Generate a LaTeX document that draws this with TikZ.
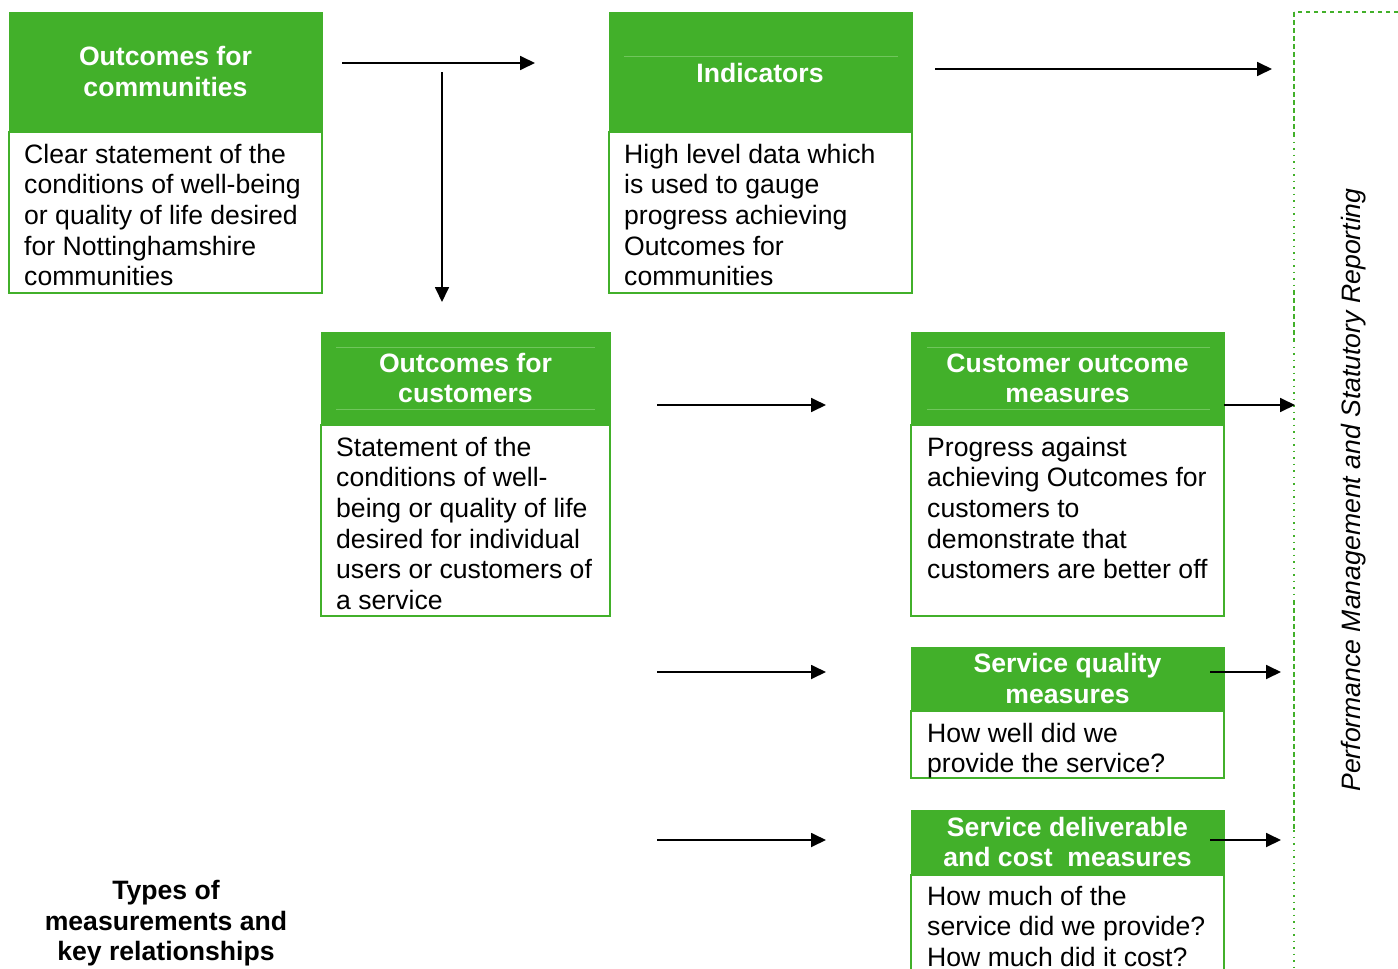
\documentclass[tikz,border=0pt]{standalone}
\usepackage{fontspec}
\setmainfont{Liberation Sans}
\usetikzlibrary{arrows.meta}
\definecolor{grn}{RGB}{66,176,42}
\definecolor{grnl}{RGB}{112,198,92}
\newcommand\hs{\rule[-6.3pt]{0pt}{30.6pt}}
\begin{document}
\begin{tikzpicture}[x=1pt,y=-1pt,
  hdr/.style={rectangle, fill=grn, draw=grn, line width=1pt, inner sep=0pt, outer sep=0pt, anchor=north west},
  bodybox/.style={rectangle, draw=grn, line width=2pt, fill=white, inner sep=0pt, outer sep=0pt, anchor=north west},
  htext/.style={text=white, font=\fontsize{26.6}{30.6}\selectfont\bfseries, align=center, inner sep=0pt},
  ttext/.style={text=black, font=\fontsize{26.6}{30.6}\selectfont\bfseries, align=center, inner sep=0pt},
  btext/.style={text=black, font=\fontsize{26.6}{30.6}\selectfont, align=left, inner sep=0pt, anchor=north west},
  vtext/.style={text=black, font=\fontsize{26.6}{30.6}\selectfont\itshape, inner sep=0pt},
  arr/.style={line width=1.8pt, -{Triangle[length=15pt,width=14pt]}},
  faint/.style={draw=grnl, line width=0.8pt},
  dashseg/.style={draw=grn, line width=2pt, dash pattern=on 5pt off 3pt},
  dotseg/.style={draw=grn, line width=2pt, dash pattern=on 1.5pt off 5pt}]
\useasboundingbox (0,0) rectangle (1398,969);
\clip (0,0) rectangle (1398,969);

% bodies
\node[bodybox, minimum width=313pt, minimum height=161pt] (b1) at (9,132) {};
\node[bodybox, minimum width=303pt, minimum height=161pt] (b2) at (609,132) {};
\node[bodybox, minimum width=289pt, minimum height=191pt] (b3) at (321,425) {};
\node[bodybox, minimum width=313pt, minimum height=191pt] (b4) at (911,425) {};
\node[bodybox, minimum width=313pt, minimum height=67pt] (b5) at (911,711) {};
\node[bodybox, minimum width=313pt, minimum height=130pt] (b6) at (911,875) {};

% headers
\node[hdr, minimum width=313pt, minimum height=120pt] (h1) at (9,12) {};
\node[hdr, minimum width=303pt, minimum height=120pt] (h2) at (609,12) {};
\node[hdr, minimum width=289pt, minimum height=93pt] (h3) at (321,332) {};
\node[hdr, minimum width=313pt, minimum height=93pt] (h4) at (911,332) {};
\node[hdr, minimum width=313pt, minimum height=64pt] (h5) at (911,647) {};
\node[hdr, minimum width=313pt, minimum height=65pt] (h6) at (911,810) {};

% faint inner lines in headers
\draw[faint] (624,56) -- (898,56);
\draw[faint] (336,347) -- (595,347);
\draw[faint] (336,409) -- (595,409);
\draw[faint] (927,347) -- (1210,347);
\draw[faint] (927,409) -- (1210,409);

% header texts
\node[htext] (t1) at (h1.center) {\hs Outcomes for\\\hs communities};
\node[htext] (t2) at (760,73) {\hs Indicators};
\node[htext] (t3) at (h3.center) {\hs Outcomes for\\\hs customers};
\node[htext] (t4) at (h4.center) {\hs Customer outcome\\\hs measures};
\node[htext] (t5) at (h5.center) {\hs Service quality\\\hs measures};
\node[htext] (t6) at (h6.center) {\hs Service deliverable\\\hs and cost\ \ measures};

% body texts
\node[btext] (x1) at (24,138.7) {\hs Clear statement of the\\\hs conditions of well-being\\\hs or quality of life desired\\\hs for Nottinghamshire\\\hs communities};
\node[btext] (x2) at (624,138.7) {\hs High level data which\\\hs is used to gauge\\\hs progress achieving\\\hs Outcomes for\\\hs communities};
\node[btext] (x3) at (336,431.7) {\hs Statement of the\\\hs conditions of well-\\\hs being or quality of life\\\hs desired for individual\\\hs users or customers of\\\hs a service};
\node[btext] (x4) at (927,431.7) {\hs Progress against\\\hs achieving Outcomes for\\\hs customers to\\\hs demonstrate that\\\hs customers are better off};
\node[btext] (x5) at (927,717.7) {\hs How well did we\\\hs provide the service?};
\node[btext] (x6) at (927,880.7) {\hs How much of the\\\hs service did we provide?\\\hs How much did it cost?};

% title
\node[ttext] (title) at (166,921) {\hs Types of\\\hs measurements and\\\hs key relationships};

% vertical text
\node[vtext, rotate=90] (pm) at (1351,490) {\hs Performance Management and Statutory Reporting};

% dashed reporting boundary
\coordinate (d0) at (1398,12);
\coordinate (d1) at (1294,12);
\coordinate (d2) at (1294,135);
\coordinate (d3) at (1294,290);
\coordinate (d4) at (1294,340);
\coordinate (d5) at (1294,600);
\coordinate (d6) at (1294,830);
\coordinate (d7) at (1294,975);
\draw[dashseg, dash pattern=on 4pt off 4pt] (d0) -- (d1);
\draw[dashseg] (d1) -- (d2);
\draw[dotseg] (d2) -- (d3);
\draw[dashseg] (d3) -- (d4);
\draw[dotseg] (d4) -- (d5);
\draw[dashseg] (d5) -- (d6);
\draw[dotseg] (d6) -- (d7);

% arrows
\coordinate (a1s) at (342,63);  \coordinate (a1e) at (535,63);
\coordinate (a2s) at (442,72);  \coordinate (a2e) at (442,302);
\coordinate (a3s) at (935,69);  \coordinate (a3e) at (1272,69);
\coordinate (a4s) at (657,405); \coordinate (a4e) at (826,405);
\coordinate (a5s) at (1224,405); \coordinate (a5e) at (1295,405);
\coordinate (a6s) at (657,672); \coordinate (a6e) at (826,672);
\coordinate (a7s) at (1210,672); \coordinate (a7e) at (1281,672);
\coordinate (a8s) at (657,840); \coordinate (a8e) at (826,840);
\coordinate (a9s) at (1210,840); \coordinate (a9e) at (1281,840);
\draw[arr] (a1s) -- (a1e);
\draw[arr] (a2s) -- (a2e);
\draw[arr] (a3s) -- (a3e);
\draw[arr] (a4s) -- (a4e);
\draw[arr] (a5s) -- (a5e);
\draw[arr] (a6s) -- (a6e);
\draw[arr] (a7s) -- (a7e);
\draw[arr] (a8s) -- (a8e);
\draw[arr] (a9s) -- (a9e);
\end{tikzpicture}
\end{document}
